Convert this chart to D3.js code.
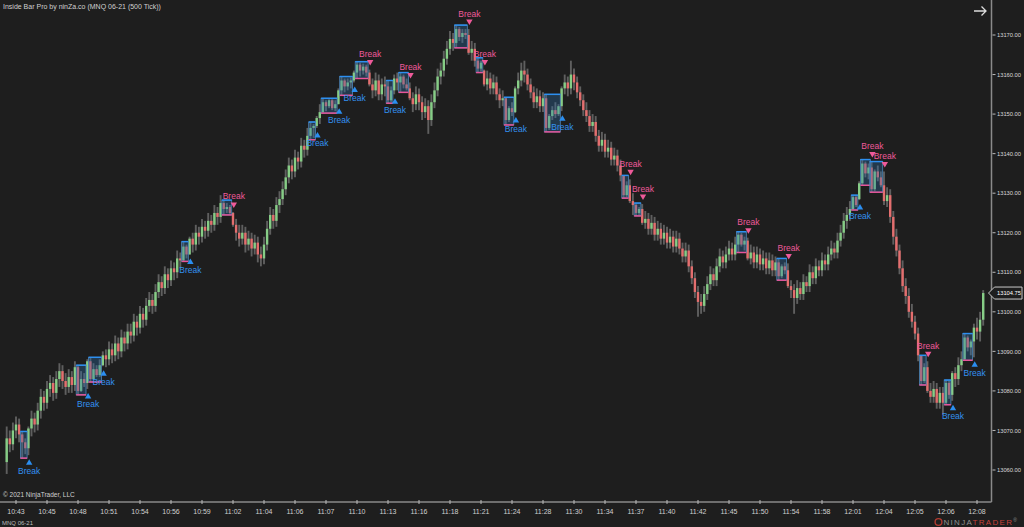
<!DOCTYPE html>
<html><head><meta charset="utf-8">
<script src="https://cdn.jsdelivr.net/npm/d3@7"></script>
<style>html,body{margin:0;padding:0;background:#1e1e1e;overflow:hidden}text{font-family:"Liberation Sans",Arial,sans-serif}</style>
</head><body><svg id="c" width="1024" height="527"></svg>
<script>
const opens=[
13062,13068,13066.5,13070,13071.5,13069,13067,13065.5,13070.5,13073,
13071.5,13075,13078.5,13077,13080.5,13082,13079.5,13083,13085,13082.5,
13081,13083.5,13081.5,13086,13080,13083,13082,13087.5,13083,13085.5,
13084,13086.5,13089,13088,13090.5,13089,13092,13090,13093.5,13092,
13095,13094,13097.5,13096,13099.5,13098,13101.5,13103,13101.5,13105,
13107.5,13106,13109.5,13108,13111,13110,13113.5,13113,13116.5,13114.5,
13118.5,13117,13120,13119,13121.5,13120.5,13123,13122,13125,13124,
13127.5,13126,13126.5,13125,13122,13120,13118.5,13120,13117,13118.5,
13116,13117.5,13114.5,13113.5,13117,13121,13124.5,13123,13127,13128.5,
13131,13134,13137,13135.5,13139,13138,13142,13141,13144.5,13146.5,
13147,13149,13150.5,13153,13152,13153.5,13151.5,13152.5,13156,13158.5,
13157,13158,13158.5,13160.5,13162.5,13161,13162,13160.5,13157.5,13156,
13158.5,13155,13157.5,13157,13153.5,13156,13159,13158,13159.5,13157.5,
13156.5,13154,13152.5,13155,13153,13150.5,13152,13148.5,13153,13156,
13159.5,13161,13164,13166.5,13169,13168,13171.5,13169.5,13170.5,13170,
13165.5,13166.5,13163.5,13161.5,13161,13157.5,13159,13156.5,13158,13155,
13153.5,13154,13148.5,13151.5,13150.5,13156.5,13158.5,13161,13160,13157.5,
13155.5,13153,13154.5,13152,13154,13146.5,13149.5,13151,13150,13152,
13156.5,13158,13156.5,13160,13158,13155.5,13153.5,13151,13149.5,13147,
13148,13144.5,13142,13143.5,13140.5,13141.5,13138.5,13139.5,13137,13134.5,
13129.5,13132,13128,13127,13125,13126,13122.5,13123.5,13121,13122.5,
13119.5,13121,13118.5,13120,13117.5,13119,13116.5,13118.5,13116,13114,
13115.5,13111.5,13108.5,13105,13102.5,13101.5,13104.5,13107,13109.5,13108,
13111.5,13114,13112.5,13114.5,13116,13114.5,13117,13119.5,13117,13118,
13113.5,13115,13112.5,13114.5,13112,13113.5,13111,13113,13110.5,13112.5,
13109,13111.5,13110.5,13106.5,13105.5,13103.5,13106,13104.5,13107.5,13106.5,
13110,13108.5,13111.5,13110.5,13113,13112,13114.5,13116,13115,13118,
13120,13123,13124.5,13126,13129,13128.5,13132.5,13137.5,13135,13136.5,
13131,13135.5,13134,13132,13128,13129.5,13124,13119,13115.5,13111,
13106.5,13104,13100,13097.5,13094.5,13089,13082.5,13086,13080,13078.5,
13080.5,13077,13079.5,13077,13082,13079,13084.5,13083,13086.5,13088,
13093.5,13091,13092.5,13096,13095,13098];
const highs=[
13071,13070,13072,13073.5,13073,13069.75,13068,13071,13075,13074.5,
13077,13080.5,13080,13082.5,13084,13083.5,13085,13087,13086.5,13084.5,
13085.5,13085,13087.5,13086.5,13085,13084.5,13088,13088.5,13087,13086.5,
13088,13090,13090.5,13092.5,13092,13094,13093.5,13095.5,13095,13097,
13097,13099.5,13099,13101.5,13101,13103.5,13105,13104.5,13107,13109.5,
13109,13111.5,13111,13113,13112.5,13115.5,13115,13117.75,13117,13119,
13120,13122,13121.5,13123.5,13123,13125,13124.5,13127,13126.5,13129.5,
13128.25,13127.5,13127,13125.25,13123.5,13122,13122,13121.5,13120.5,13120,
13119.5,13119,13116.5,13119,13123,13126.5,13126,13129,13130.5,13133,
13136,13139,13138.5,13141,13140.5,13144,13143.5,13146.5,13148,13147.5,
13149.5,13152.5,13154,13153.5,13153.75,13153.75,13153.5,13156.5,13159.5,13159,
13159,13159.25,13161,13163.25,13163,13162.75,13162.5,13161.25,13159,13160.5,
13160,13159,13159.5,13158.5,13157,13160,13160.5,13160.5,13160,13159,
13158,13155.5,13157,13156.5,13154.5,13154,13153.5,13155,13158,13161.5,
13163,13166,13168.5,13171,13170.5,13172.5,13172,13171.5,13171.5,13171.5,
13168.5,13168,13164.25,13163.5,13161.25,13161,13160.5,13160,13159.5,13156.5,
13156,13154.25,13152,13153,13157,13160.5,13163,13163.5,13161.5,13159,
13157,13156.5,13156,13155.5,13155,13150,13152,13153,13152.5,13157,
13160,13159.5,13163.5,13161.5,13159.5,13157,13155,13153,13151,13150,
13149.5,13146,13145.5,13145,13143.5,13143,13141.5,13141,13138.5,13134.5,
13133,13133.5,13130,13127.5,13126.5,13127.25,13125.5,13125,13124.5,13124,
13123,13122.5,13122,13121.5,13121,13120.5,13120.5,13120,13117.5,13117.5,
13117,13113,13110,13106.5,13104.5,13106.5,13109,13111.5,13111,13113.5,
13116,13115.5,13116.5,13118,13117.5,13119,13120.25,13120,13119,13118.75,
13117,13116.5,13116.5,13116,13115.5,13115,13115,13114.5,13114,13113.5,
13112,13112.5,13112.25,13108,13107,13108,13107.5,13109.5,13109,13112,
13111.5,13113.5,13113,13115,13114.5,13116.5,13118,13117.5,13120,13122,
13125,13126.5,13128,13129.5,13129.25,13133,13138.5,13138,13137.5,13138,
13136,13137,13135.5,13135.5,13131.5,13131,13125.5,13121,13117,13113,
13108.5,13106,13102,13099,13096,13089,13087,13087.5,13082,13082.5,
13082,13081,13081,13082.75,13082.5,13085,13086,13088.5,13090,13094.5,
13094,13093,13097,13098.5,13100,13105.5];
const lows=[
13059,13064.5,13065,13068,13067,13063,13064,13063.75,13068.5,13069.5,
13070,13073,13075,13075.5,13078.5,13077.5,13078,13081,13080.5,13079,
13079.5,13079.5,13080,13079,13079.75,13081,13080.5,13082.25,13082.75,13083.5,
13083.5,13086.25,13086,13086.5,13087,13087.5,13088,13088.5,13090,13090.5,
13092,13092.5,13094,13094.5,13096,13096.5,13100,13099.5,13100,13103.5,
13104,13104.5,13106,13106.5,13108,13108.5,13111,13112.75,13113.5,13114.5,
13115,13115.5,13117,13117.5,13118.5,13119,13120,13120.5,13122,13122.5,
13124.5,13125,13124.75,13121.5,13118,13116.5,13117,13115,13115.5,13114,
13114.5,13112.5,13111.5,13112,13115.5,13119.5,13121,13121.5,13125,13127,
13129.5,13132.5,13133.5,13134,13136,13136.5,13139,13139.5,13143.5,13144,
13146.5,13147.5,13150.25,13150.75,13151.5,13151,13150.75,13152.5,13154.75,13155.5,
13156,13156.5,13158,13159,13159.5,13160,13159.5,13157,13154,13154.5,
13153.5,13153.5,13154.5,13152.75,13153,13155,13156,13155.5,13156.5,13156,
13153.5,13150.5,13151,13151,13148.5,13149,13145,13147,13151.5,13154.5,
13157.5,13159.5,13162.5,13165,13166,13166.75,13168.5,13168,13169,13165,
13163.5,13162,13160.5,13160.75,13157,13156,13155,13155,13153.5,13151.5,
13152,13147.25,13148,13149.5,13150.25,13155,13157,13158,13156,13154,
13151.5,13151.5,13150.5,13150.5,13145.5,13146,13148.5,13149,13149.5,13150.75,
13155,13154.5,13155,13156,13154,13152,13149.5,13148,13145.5,13145.5,
13143,13140.5,13140.5,13139,13139,13137,13137,13135.5,13133,13128.75,
13129,13127.5,13124.5,13124.25,13124.5,13122,13121,13119.5,13119.5,13118,
13118,13117,13117,13116,13116,13115,13115,13114.5,13112.5,13112.5,
13110,13107,13103.5,13098.75,13099.5,13100,13103,13105.5,13106.5,13106.5,
13110,13111,13111,13113,13113,13113,13115,13116.5,13115.5,13113,
13112,13111,13111,13110.5,13110.5,13109.5,13109.5,13109,13109,13108,
13108.5,13109.5,13106,13103.5,13099.5,13102,13103,13103,13105,13105,
13107,13107,13109,13109,13110.5,13110.5,13113,13113.5,13113.5,13116.5,
13118.5,13121,13123,13125.75,13126.5,13128.25,13132,13134,13133.5,13130.25,
13130.5,13133,13131.5,13127,13126.5,13122.5,13117,13114,13109.5,13105,
13102,13098.5,13096,13093,13087.5,13081.5,13082,13079.5,13077,13077,
13075.5,13075.5,13074,13076.5,13078,13077.5,13081,13081.5,13085,13087.75,
13090,13089,13088.5,13093,13092.5,13096.5];
const closes=[
13068,13066.5,13070,13071.5,13069,13067,13065.5,13070.5,13073,13071.5,
13075,13078.5,13077,13080.5,13082,13079.5,13083,13085,13082.5,13081,
13083.5,13081.5,13086,13080,13083,13082,13087.5,13083,13085.5,13084,
13086.5,13089,13088,13090.5,13089,13092,13090,13093.5,13092,13095,
13094,13097.5,13096,13099.5,13098,13101.5,13103,13101.5,13105,13107.5,
13106,13109.5,13108,13111,13110,13113.5,13113,13116.5,13114.5,13118.5,
13117,13120,13119,13121.5,13120.5,13123,13122,13125,13124,13127.5,
13126,13126.5,13125,13122,13120,13118.5,13120,13117,13118.5,13116,
13117.5,13114.5,13113.5,13117,13121,13124.5,13123,13127,13128.5,13131,
13134,13137,13135.5,13139,13138,13142,13141,13144.5,13146.5,13147,
13149,13150.5,13153,13152,13153.5,13151.5,13152.5,13156,13158.5,13157,
13158,13158.5,13160.5,13162.5,13161,13162,13160.5,13157.5,13156,13158.5,
13155,13157.5,13157,13153.5,13156,13159,13158,13159.5,13157.5,13156.5,
13154,13152.5,13155,13153,13150.5,13152,13148.5,13153,13156,13159.5,
13161,13164,13166.5,13169,13168,13171.5,13169.5,13170.5,13170,13165.5,
13166.5,13163.5,13161.5,13163,13157.5,13159,13156.5,13158,13155,13153.5,
13154,13148.5,13151.5,13150.5,13156.5,13158.5,13161,13160,13157.5,13155.5,
13153,13154.5,13152,13154,13146.5,13149.5,13151,13150,13152,13156.5,
13158,13156.5,13160,13158,13155.5,13153.5,13151,13149.5,13147,13148,
13144.5,13142,13143.5,13140.5,13141.5,13138.5,13139.5,13137,13134.5,13129.5,
13132,13128,13127,13125,13126,13122.5,13123.5,13121,13122.5,13119.5,
13121,13118.5,13120,13117.5,13119,13116.5,13118.5,13116,13114,13115.5,
13111.5,13108.5,13105,13102.5,13101.5,13104.5,13107,13109.5,13108,13111.5,
13114,13112.5,13114.5,13116,13114.5,13117,13119.5,13117,13118,13113.5,
13115,13112.5,13114.5,13112,13113.5,13111,13113,13110.5,13112.5,13109,
13111.5,13110.5,13106.5,13105.5,13103.5,13106,13104.5,13107.5,13106.5,13110,
13108.5,13111.5,13110.5,13113,13112,13114.5,13116,13115,13118,13120,
13123,13124.5,13126,13129,13127,13132.5,13137.5,13135,13136.5,13131,
13135.5,13134,13132,13128,13129.5,13124,13119,13115.5,13111,13106.5,
13104,13100,13097.5,13094.5,13089,13082.5,13086,13080,13078.5,13080.5,
13077,13079.5,13077,13082,13079,13084.5,13083,13086.5,13088,13093.5,
13091,13092.5,13096,13095,13098,13104.75];

const timeLabels=["10:43","10:45","10:48","10:51","10:54","10:56","10:59","11:02","11:04","11:06","11:07","11:10","11:13","11:16","11:18","11:21","11:24","11:28","11:30","11:34","11:37","11:40","11:42","11:45","11:50","11:54","11:58","12:01","12:04","12:05","12:06","12:08"];
const priceTicks=[13060,13070,13080,13090,13100,13110,13120,13130,13140,13150,13160,13170];

const boxStart=[5,23,27,57,70,98,102,108,113,123,127,145,152,161,174,199,203,236,249,273,276,279,295,303,309];
const boxEnd=[6,25,30,58,72,99,106,111,116,124,129,148,153,163,178,200,204,238,251,274,278,282,296,304,311];
const breakBar=[7,26,31,59,73,100,107,112,117,125,130,149,154,164,179,201,205,239,252,275,279,283,297,305,312];
const breakDir=["up","up","up","up","down","up","up","up","down","up","down","down","down","up","up","down","down","down","down","up","down","down","down","up","up"];
const lastPrice=13104.75;

const W=1024,H=527;
const svg=d3.select("#c");
svg.append("rect").attr("width",W).attr("height",H).attr("fill","#1e1e1e");

const n=closes.length;
const x=d3.scaleLinear().domain([0,n-1]).range([6.7,6.7+3.1*(n-1)]);
const y=d3.scaleLinear().domain([13060,13170]).range([470,35]);

const bars=d3.range(n).map(i=>({i,o:opens[i],h:highs[i],l:lows[i],c:closes[i]}));

// candles
const cg=svg.append("g");
cg.selectAll("line.w").data(bars).join("line")
  .attr("x1",d=>x(d.i)).attr("x2",d=>x(d.i))
  .attr("y1",d=>y(d.h)).attr("y2",d=>y(d.l))
  .attr("stroke","#5f5f5f").attr("stroke-width",1.9);
cg.selectAll("rect.b").data(bars).join("rect")
  .attr("x",d=>x(d.i)-1.2).attr("width",2.4)
  .attr("y",d=>y(Math.max(d.o,d.c)))
  .attr("height",d=>Math.max(1,Math.abs(y(d.o)-y(d.c))))
  .attr("fill",d=>d.c>=d.o?"#86cd86":"#e46e6e");

// inside-bar boxes
const boxes=boxStart.map((s,k)=>{
  const e=boxEnd[k];
  return {s,e,hi:d3.max(highs.slice(s,e+1)),lo:d3.min(lows.slice(s,e+1))};
});
const bg=svg.append("g");
boxes.forEach(b=>{
  const x0=x(b.s)-1.8,x1=x(b.e)+1.8,y0=y(b.hi),y1=y(b.lo);
  bg.append("rect").attr("x",x0).attr("y",y0).attr("width",x1-x0).attr("height",y1-y0)
    .attr("fill","#2a6fae").attr("fill-opacity",0.33).attr("stroke","#4f86b8").attr("stroke-width",0.8);
  bg.append("line").attr("x1",x0).attr("x2",x1).attr("y1",y0).attr("y2",y0).attr("stroke","#2d8ff0").attr("stroke-width",1.5);
  bg.append("line").attr("x1",x0).attr("x2",x1).attr("y1",y1).attr("y2",y1).attr("stroke","#e8559a").attr("stroke-width",1.5);
});

// break markers
const mg=svg.append("g");
breakBar.forEach((bi,k)=>{
  const cx=x(bi)+0.8;
  if(breakDir[k]==="up"){
    const ty=y(lows[bi])+7;
    mg.append("path").attr("d",`M${cx},${ty-3}L${cx+3.2},${ty+2.5}L${cx-3.2},${ty+2.5}Z`).attr("fill","#2b8ef0");
    mg.append("text").attr("x",cx).attr("y",ty+11.5).attr("text-anchor","middle")
      .attr("font-size","8.5px").attr("fill","#3391f0").text("Break");
  } else {
    const ty=y(highs[bi])-7;
    mg.append("path").attr("d",`M${cx},${ty+3}L${cx+3.2},${ty-2.5}L${cx-3.2},${ty-2.5}Z`).attr("fill","#ee5a9a");
    mg.append("text").attr("x",cx).attr("y",ty-5.5).attr("text-anchor","middle")
      .attr("font-size","8.5px").attr("fill","#ee5a9a").text("Break");
  }
});

// right price axis
const ax=991.5;
svg.append("line").attr("x1",ax).attr("x2",ax).attr("y1",0).attr("y2",502).attr("stroke","#8a8a8a").attr("stroke-width",1.5);
const fmt=d3.format(".2f");
const pg=svg.append("g");
priceTicks.forEach(p=>{
  pg.append("line").attr("x1",ax+1).attr("x2",ax+4).attr("y1",y(p)).attr("y2",y(p)).attr("stroke","#bbb").attr("stroke-width",1);
  pg.append("text").attr("x",ax+5.5).attr("y",y(p)).attr("dy","0.35em").attr("font-size","6.2px")
    .attr("textLength",24).attr("lengthAdjust","spacingAndGlyphs").attr("fill","#d8d8d8").text(fmt(p));
});
// last price label
const ly=y(lastPrice);
svg.append("path").attr("d",`M${ax-3},${ly}L${ax+3},${ly-6}H1022V${ly+6}H${ax+3}Z`)
  .attr("fill","#1e1e1e").attr("stroke","#c8c8c8").attr("stroke-width",1);
svg.append("text").attr("x",ax+5.5).attr("y",ly).attr("dy","0.35em").attr("font-size","6.2px")
  .attr("textLength",24).attr("lengthAdjust","spacingAndGlyphs").attr("fill","#ffffff").text(fmt(lastPrice));

// bottom time axis
svg.append("line").attr("x1",0).attr("x2",ax).attr("y1",502).attr("y2",502).attr("stroke","#8a8a8a").attr("stroke-width",1.5);
const tg=svg.append("g");
timeLabels.forEach((t,k)=>{
  const tx=x(3+10*k);
  tg.append("line").attr("x1",tx).attr("x2",tx).attr("y1",500).attr("y2",504).attr("stroke","#bbb").attr("stroke-width",1);
  tg.append("text").attr("x",tx).attr("y",514).attr("text-anchor","middle").attr("font-size","7px").attr("fill","#d0d0d0").text(t);
});

// texts
svg.append("text").attr("x",3).attr("y",9).attr("font-size","7px").attr("fill","#d0d0d0").text("Inside Bar Pro by ninZa.co (MNQ 06-21 (500 Tick))");
svg.append("text").attr("x",3).attr("y",497).attr("font-size","6.5px").attr("fill","#d0d0d0").text("© 2021 NinjaTrader, LLC");
svg.append("text").attr("x",2).attr("y",524.5).attr("font-size","6px").attr("fill","#bbbbbb").text("MNQ 06-21");

// arrow icon
svg.append("path").attr("d","M974,11H986M981.5,6.5L986,11L981.5,15.5").attr("fill","none").attr("stroke","#dddddd").attr("stroke-width",1.3);

// logo
svg.append("circle").attr("cx",938.5).attr("cy",522).attr("r",3.4).attr("fill","none").attr("stroke","#b03a30").attr("stroke-width",1.4);
const lg=svg.append("text").attr("x",943.5).attr("y",525).attr("font-size","8px").attr("letter-spacing","1.3px");
lg.append("tspan").attr("fill","#8f8f8f").text("NINJA");
lg.append("tspan").attr("fill","#c4403a").text("TRADER");
lg.append("tspan").attr("fill","#8f8f8f").attr("font-size","5px").attr("dy","-3").text("®");
</script></body></html>
